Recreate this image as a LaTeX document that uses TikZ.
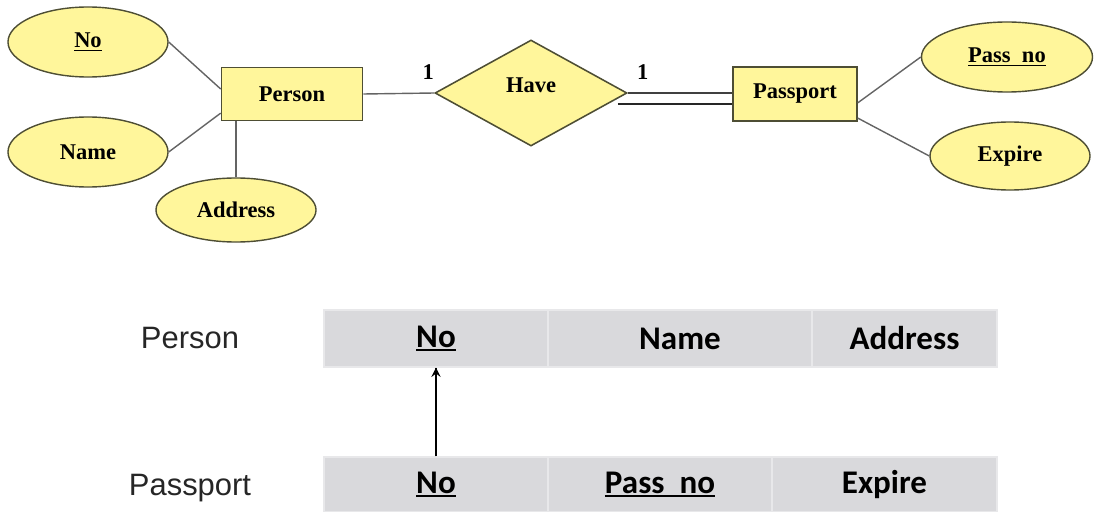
\documentclass[tikz,border=0pt]{standalone}
\usepackage{fontspec}
\setmainfont{Liberation Serif}
\setsansfont{Liberation Sans}
\newfontfamily\tabfont{Carlito}
\usetikzlibrary{calc,shapes.geometric,decorations.markings}
\definecolor{erfill}{RGB}{255,246,155}
\definecolor{erdraw}{RGB}{78,78,52}
\definecolor{erline}{RGB}{100,100,100}
\definecolor{cellfill}{RGB}{217,217,220}
\definecolor{celldraw}{RGB}{232,232,234}
\newcommand{\keyul}[2][1.5pt]{\leavevmode\setbox0\hbox{#2}\rlap{\rule[-3pt]{\wd0}{#1}}\box0}
\tikzset{->/.style = {decoration={markings, mark=at position 1 with {\arrow[scale=1.3]{stealth}}}, postaction={decorate}}}
\tikzset{entity/.style = {draw=erdraw, fill=erfill, line width=1.1pt, inner sep=0, font=\bfseries\fontsize{16}{18}\selectfont}}
\tikzset{attr/.style = {ellipse, draw=erdraw, fill=erfill, line width=1pt, inner sep=0, minimum width=4cm, minimum height=1.75cm, font=\bfseries\fontsize{16}{18}\selectfont}}
\tikzset{card/.style = {inner sep=0, font=\bfseries\fontsize{16}{18}\selectfont}}
\tikzset{cell/.style = {draw=celldraw, fill=cellfill, line width=1pt, inner sep=0, font=\tabfont\bfseries\fontsize{23.5}{26}\selectfont}}
\tikzset{rel/.style = {inner sep=0, font=\sffamily\fontsize{22}{24}\selectfont, text=black!85}}

\begin{document}
\begin{tikzpicture}[x=0.025cm, y=-0.025cm]
	\useasboundingbox (0,0) rectangle (1094,512);
	% ER part
	\node [entity, minimum width=3.525cm, minimum height=1.325cm] (person) at (292,94) {Person};
	\node [entity, minimum width=3.1cm, minimum height=1.35cm] (passport) at (795,94) {Passport};
	\node [entity, diamond, aspect=1.81, minimum width=4.8cm, minimum height=2.65cm,
	       text height=11pt, text depth=11.4pt] (have) at (531,93) {Have};
	\node [attr] (no) at (88,42) {\keyul[0.8pt]{No}};
	\node [attr] (name) at (88,152) {Name};
	\node [attr, minimum height=1.6cm] (address) at (236,210) {Address};
	\node [attr, minimum width=4.275cm] (passno) at (1007,57) {\keyul[0.8pt]{Pass\ \ no}};
	\node [attr, minimum height=1.7cm] (expire) at (1010,156) {Expire};
	\node [card] (oneL) at ($(have.west)+(-6,-21)$) {1};
	\node [card] (oneR) at ($(have.east)+(15,-21)$) {1};
	\begin{scope}[erline, line width=1pt]
		\draw (no.east) -- (person.176);
		\draw (name.east) -- (person.195);
		\draw (address.north) -- (address.north |- person.south);
		\draw (person.east) -- (have.west);
		\draw (passport.352) -- (passno.west);
		\draw (passport.339) -- (expire.west);
	\end{scope}
	\draw [black!75, line width=1.1pt] (have.east) -- (have.east -| passport.west);
	\draw [black!85, line width=1.1pt] ($(have.east)+(-10,11)$) -- ($(have.east -| passport.west)+(0,11)$);
	% relations
	\node [rel] (rPerson) at (190,338) {Person};
	\node [rel] (rPassport) at (190,488) {Passport};
	\node [cell, minimum width=5.6cm, minimum height=1.425cm] (pNo) at (436,338.5) {\keyul{No}};
	\node [cell, minimum width=6.6cm, minimum height=1.425cm] (pName) at (680,338.5) {Name};
	\node [cell, minimum width=4.625cm, minimum height=1.425cm] (pAddress) at (904.5,338.5) {Address};
	\node [cell, minimum width=5.6cm, minimum height=1.375cm] (sNo) at (436,484.5) {\keyul{No}};
	\node [cell, minimum width=5.6cm, minimum height=1.375cm] (sPassno) at (660,484.5) {\keyul{Pass\ \ no}};
	\node [cell, minimum width=5.625cm, minimum height=1.375cm] (sExpire) at (884.5,484.5) {Expire};
	\draw [->, line width=1.2pt] (sNo.north) -- (pNo.south);
\end{tikzpicture}
\end{document}
